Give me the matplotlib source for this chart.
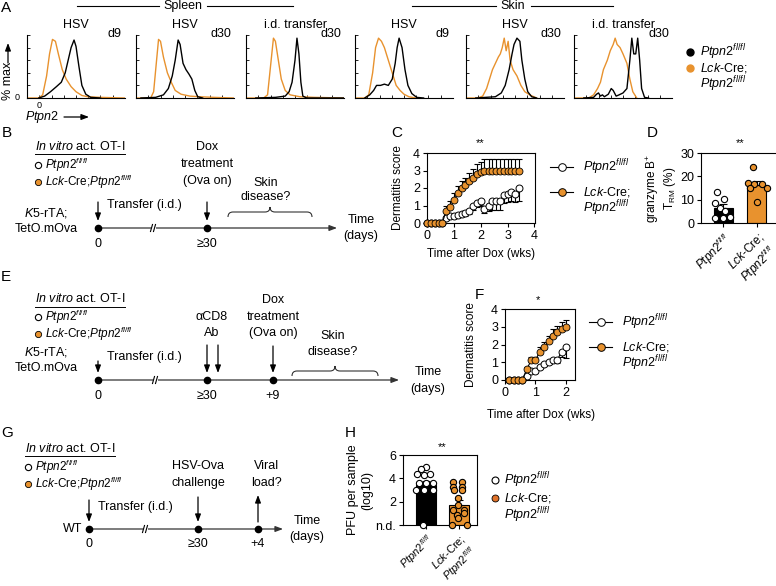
import matplotlib
matplotlib.use("Agg")
import matplotlib.pyplot as plt
from matplotlib.path import Path
from matplotlib.patches import PathPatch, Rectangle

plt.rcParams['font.family'] = ['Liberation Sans', 'DejaVu Sans']
plt.rcParams['mathtext.fontset'] = 'custom'
plt.rcParams['mathtext.rm'] = 'Liberation Sans'
plt.rcParams['mathtext.it'] = 'Liberation Sans:italic'
plt.rcParams['mathtext.bf'] = 'Liberation Sans:bold'
plt.rcParams['axes.linewidth'] = 0.8

W, H = 776, 586
ORANGE = '#E8922E'
FS = 9

PTPN2 = r'$\mathit{Ptpn2}^{fl/fl}$'
LCK = r'$\mathit{Lck}$-Cre;'
LCK_PTPN2 = r'$\mathit{Lck}$-Cre;$\mathit{Ptpn2}^{fl/fl}$'
IN_VITRO = r'$\mathit{In\ vitro}$ act. OT-I'

# ---- A: Ptpn2 histograms (x = fraction of axis, y = fraction of max) ----
hist_titles = ['HSV', 'HSV', 'i.d. transfer', 'HSV', 'HSV', 'i.d. transfer']
hist_days = ['d9', 'd30', 'd30', 'd9', 'd30', 'd30']
ko_x = [
    [0, 0.12, 0.16, 0.20, 0.23, 0.26, 0.29, 0.32, 0.36, 0.40, 0.45, 0.50, 0.56, 0.62, 0.75, 1.0],
    [0, 0.15, 0.18, 0.21, 0.23, 0.25, 0.28, 0.32, 0.36, 0.40, 0.46, 0.55, 0.65, 0.80, 1.0],
    [0, 0.18, 0.22, 0.25, 0.28, 0.30, 0.33, 0.36, 0.40, 0.45, 0.55, 0.70, 1.0],
    [0, 0.10, 0.14, 0.18, 0.21, 0.24, 0.27, 0.30, 0.34, 0.38, 0.42, 0.46, 0.50, 0.55, 0.62],
    [0, 0.12, 0.17, 0.21, 0.24, 0.27, 0.30, 0.33, 0.35, 0.37, 0.39, 0.41, 0.43, 0.45, 0.48,
     0.52, 0.56, 0.60, 0.65, 0.72],
    [0, 0.15, 0.20, 0.24, 0.27, 0.30, 0.34, 0.37, 0.40, 0.42, 0.44, 0.47, 0.50, 0.54, 0.57,
     0.60, 0.64],
]
ko_y = [
    [0, 0, 0.05, 0.35, 0.70, 0.93, 0.90, 0.70, 0.45, 0.30, 0.18, 0.10, 0.04, 0.02, 0.01, 0],
    [0, 0, 0.10, 0.60, 0.93, 0.90, 0.65, 0.40, 0.25, 0.12, 0.06, 0.03, 0.02, 0.01, 0],
    [0, 0, 0.05, 0.50, 0.95, 0.90, 0.60, 0.30, 0.12, 0.05, 0.02, 0.01, 0],
    [0, 0, 0.05, 0.40, 0.80, 0.95, 0.90, 0.80, 0.60, 0.40, 0.20, 0.12, 0.06, 0.02, 0],
    [0, 0, 0.03, 0.15, 0.30, 0.45, 0.55, 0.65, 0.70, 0.80, 0.95, 0.75, 0.90, 0.60, 0.45,
     0.35, 0.20, 0.10, 0.05, 0],
    [0, 0, 0.05, 0.15, 0.25, 0.45, 0.60, 0.75, 0.85, 0.95, 0.85, 0.80, 0.70, 0.55, 0.30,
     0.10, 0],
]
wt_x = [
    [0.12, 0.18, 0.24, 0.30, 0.35, 0.39, 0.42, 0.45, 0.48, 0.50, 0.53, 0.56, 0.60, 0.65, 0.75],
    [0.05, 0.20, 0.28, 0.33, 0.37, 0.40, 0.43, 0.45, 0.48, 0.51, 0.54, 0.57, 0.60, 0.63, 0.68],
    [0.10, 0.30, 0.40, 0.44, 0.47, 0.50, 0.52, 0.54, 0.56, 0.58, 0.62, 1.0],
    [0.10, 0.15, 0.19, 0.22, 0.26, 0.30, 0.34, 0.38, 0.41, 0.43, 0.45, 0.48, 0.51, 0.54, 0.58,
     0.63, 0.70],
    [0.10, 0.30, 0.36, 0.40, 0.44, 0.47, 0.49, 0.52, 0.55, 0.57, 0.60, 0.63, 0.67, 0.72],
    [0.10, 0.20, 0.23, 0.25, 0.27, 0.29, 0.31, 0.35, 0.38, 0.40, 0.43, 0.46, 0.50, 0.54, 0.57,
     0.59, 0.61, 0.63, 0.65, 0.67, 0.69, 0.72, 0.76],
]
wt_y = [
    [0, 0.03, 0.10, 0.18, 0.25, 0.40, 0.60, 0.80, 0.92, 0.82, 0.50, 0.20, 0.06, 0.01, 0],
    [0, 0.01, 0.05, 0.15, 0.35, 0.60, 0.92, 0.85, 0.55, 0.45, 0.38, 0.30, 0.12, 0.02, 0],
    [0, 0.01, 0.03, 0.10, 0.25, 0.60, 0.95, 0.70, 0.25, 0.03, 0, 0],
    [0, 0.05, 0.12, 0.20, 0.20, 0.22, 0.20, 0.30, 0.55, 0.80, 0.95, 0.80, 0.45, 0.20, 0.07,
     0.01, 0],
    [0, 0.02, 0.08, 0.20, 0.45, 0.70, 0.85, 0.95, 0.90, 0.60, 0.30, 0.10, 0.02, 0],
    [0, 0.01, 0.06, 0.08, 0.03, 0.05, 0.02, 0.06, 0.15, 0.12, 0.03, 0.05, 0.08, 0.15, 0.60,
     0.95, 0.70, 0.70, 0.95, 0.60, 0.15, 0.01, 0],
]

# ---- C: dermatitis score, memory challenge ----
c_weeks = [0, 0.14, 0.29, 0.43, 0.57, 0.71, 0.86, 1.0, 1.14, 1.29, 1.43, 1.57, 1.71, 1.86,
           2.0, 2.14, 2.29, 2.43, 2.57, 2.71, 2.86, 3.0, 3.14, 3.29, 3.43]
c_wt = [0, 0, 0, 0, 0, 0.3, 0.4, 0.4, 0.45, 0.5, 0.55, 0.7, 0.95, 1.15, 1.25,
        0.8, 0.95, 1.25, 1.25, 1.25, 1.6, 1.65, 1.75, 1.65, 2.0]
c_wt_err = [0, 0, 0, 0, 0, 0.1, 0.1, 0.1, 0.1, 0.1, 0.15, 0.2, 0.2, 0.25, 0.3,
            0.2, 0.25, 0.5, 0.5, 0.5, 0.45, 0.45, 0.5, 0.45, 0.75]
c_ko = [0, 0, 0, 0, 0, 0.7, 0.9, 1.3, 1.7, 2.0, 2.2, 2.4, 2.6, 2.8, 2.9,
        3, 3, 3, 3, 3, 3, 3, 3, 3, 3]
c_ko_err = [0, 0, 0, 0, 0, 0.3, 0.35, 0.4, 0.4, 0.4, 0.4, 0.45, 0.5, 0.55, 0.6,
            0.65, 0.65, 0.65, 0.65, 0.65, 0.65, 0.65, 0.65, 0.65, 0.65]

# ---- D: granzyme B+ TRM ----
d_groups = [PTPN2, LCK + '\n' + PTPN2]
d_means = [6.4, 16.2]
d_sem = [1.6, 1.7]
d_wt_pts = [13.5, 8.4, 10.2, 6.3, 5.3, 2.0, 2.0, 2.4]
d_wt_dx = [-0.17, -0.23, 0.03, -0.09, 0.06, -0.23, 0.0, 0.2]
d_ko_pts = [24.1, 17.0, 16.6, 16.6, 15.1, 14.9, 9.1]
d_ko_dx = [-0.12, -0.26, -0.09, 0.15, -0.2, 0.29, 0.0]

# ---- F: dermatitis score after CD8 depletion ----
f_weeks = [0.14, 0.29, 0.43, 0.57, 0.71, 0.86, 1.0, 1.14, 1.29, 1.43, 1.57, 1.71, 1.86, 2.0]
f_wt = [0, 0, 0, 0, 0.25, 0.5, 0.5, 0.75, 0.9, 1.0, 1.1, 1.1, 1.6, 1.85]
f_wt_err = [0, 0, 0, 0, 0.05, 0.1, 0.1, 0.1, 0.1, 0.1, 0.1, 0.15, 0.3, 0.6]
f_ko = [0, 0, 0, 0, 0.6, 1.1, 1.1, 1.6, 1.85, 2.2, 2.5, 2.7, 2.9, 3.0]
f_ko_err = [0, 0, 0, 0, 0.15, 0.2, 0.2, 0.25, 0.3, 0.3, 0.35, 0.35, 0.35, 0.4]

# ---- H: viral load ----
h_means = [3.4, 1.7]
h_sem = [0.4, 0.45]
h_wt_pts = [5.0, 4.8, 4.4, 4.3, 4.4, 3.6, 3.6, 3.6, 3.0, 3.0, 3.0, 0]
h_wt_dx = [0.0, -0.14, -0.26, -0.05, 0.12, -0.2, 0.0, 0.2, -0.3, -0.05, 0.2, -0.1]
h_ko_pts = [3.7, 3.7, 3.3, 3.3, 3.0, 3.0, 2.3, 1.7, 1.3, 1.3, 0.9, 1.0, 0.6, 0, 0]
h_ko_dx = [-0.18, 0.09, -0.18, 0.09, -0.15, 0.1, -0.03, -0.03, -0.18, 0.15, -0.06, 0.15,
           -0.03, -0.2, 0.25]


def box(x0, y0, x1, y1):
    """pixel box (top-left origin) -> figure fraction rect"""
    return [x0 / W, 1 - y1 / H, (x1 - x0) / W, (y1 - y0) / H]


fig = plt.figure(figsize=(W / 100, H / 100), dpi=100)

# overlay for schematics / free text, in pixel coordinates
ov = fig.add_axes([0, 0, 1, 1], zorder=5)
ov.set_xlim(0, W)
ov.set_ylim(H, 0)
ov.axis('off')


def txt(x, y, s, size=FS, ha='center', **kw):
    return ov.text(x, y, s, fontsize=size, ha=ha, va='center', **kw)


def arrow(x0, y0, x1, y1, color='k'):
    ov.annotate('', xy=(x1, y1), xytext=(x0, y0),
                arrowprops=dict(arrowstyle='-|>,head_length=0.45,head_width=0.17',
                                color=color, lw=0.9, shrinkA=0, shrinkB=0))


def brace(x0, x1, y, h=5):
    xm = (x0 + x1) / 2
    verts = [(x0, y + h), (x0, y), (x0 + h, y), (xm - h, y), (xm, y), (xm, y - h),
             (xm, y), (xm + h, y), (x1 - h, y), (x1, y), (x1, y + h)]
    codes = [Path.MOVETO, Path.CURVE3, Path.CURVE3, Path.LINETO, Path.CURVE3, Path.CURVE3,
             Path.CURVE3, Path.CURVE3, Path.LINETO, Path.CURVE3, Path.CURVE3]
    ov.add_patch(PathPatch(Path(verts, codes), fc='none', ec='#333333', lw=0.8))


def timeline(x0, x1, y, dots, brk):
    arrow(x0, y, x1, y, color='#333333')
    ov.add_patch(Rectangle((brk - 2, y - 3), 5, 6, fc='white', ec='none', zorder=3))
    for dx in (-1.5, 1.5):
        ov.plot([brk + dx - 1, brk + dx + 1], [y + 3.5, y - 3.5], color='k', lw=0.8, zorder=4)
    ov.plot(dots, [y] * len(dots), 'o', color='k', ms=4.5, zorder=4)


def strain_key(x, y0, step):
    under = txt(x, y0 - 1, IN_VITRO, ha='left')
    ov.plot(x + 3, y0 + step, 'o', mfc='white', mec='k', ms=4.5, mew=0.8)
    txt(x + 10, y0 + step, PTPN2, ha='left', size=8.5)
    ov.plot(x + 3, y0 + 2 * step, 'o', mfc=ORANGE, mec='k', ms=4.5, mew=0.6)
    txt(x + 10, y0 + 2 * step, LCK_PTPN2, ha='left', size=8.5)
    return under


# ---- panel letters ----
for lab, (x, y) in zip('ABCDEFGH', [(6, 8), (7, 133), (397, 133), (652, 133), (6, 277),
                                    (479, 295), (7, 433), (350, 433)]):
    txt(x, y, lab, size=11)

# ---- A ----
hist_left = [27, 136, 246, 355, 466, 574]
for i in range(6):
    ax = fig.add_axes(box(hist_left[i], 35, hist_left[i] + 98, 98))
    ax.plot(ko_x[i], ko_y[i], color=ORANGE, lw=1)
    ax.plot(wt_x[i], wt_y[i], color='k', lw=1)
    ax.set_xlim(0, 1)
    ax.set_ylim(0, 1)
    ax.spines[['top', 'right']].set_visible(False)
    ax.set_xticks([0.125, 0.25, 0.375, 0.5, 0.625, 0.75, 0.875])
    ax.set_yticks([0.2, 0.4, 0.6, 0.8, 1.0])
    ax.tick_params(direction='in', length=2, width=0.6, labelbottom=False, labelleft=False)
    txt(hist_left[i] + 49, 25, hist_titles[i])
    txt(hist_left[i] + 95, 34, hist_days[i], ha='right')
txt(17, 97, '0', size=6.5)
txt(39, 106, '0', size=6.5)
txt(8, 81, '% max', rotation=90)
arrow(8, 63, 8, 43)
txt(25, 117, r'$\mathit{Ptpn2}$', ha='left')
arrow(64, 117, 89, 117)
txt(183, 6, 'Spleen')
ov.plot([77, 159], [6, 6], color='k', lw=0.8)
ov.plot([207, 293], [6, 6], color='k', lw=0.8)
txt(513, 6, 'Skin')
ov.plot([412, 496], [6, 6], color='k', lw=0.8)
ov.plot([531, 613], [6, 6], color='k', lw=0.8)
ov.plot(690, 52, 'o', color='k', ms=5)
txt(700, 52, PTPN2, ha='left')
ov.plot(690, 68, 'o', color=ORANGE, ms=5)
txt(700, 68, LCK, ha='left')
txt(700, 84, PTPN2, ha='left')

# ---- B schematic ----
unders = [strain_key(35, 147, 17.5)]
arrow(98, 202, 98, 221)
txt(107, 205, 'Transfer (i.d.)', ha='left')
txt(46, 213, r'$\mathit{K5}$-rTA;')
txt(46, 229, 'TetO.mOva')
timeline(98, 337, 228, [98, 207], 153)
txt(98, 244, '0')
txt(207, 244, '≥30')
for j, s in enumerate(['Dox', 'treatment', '(Ova on)']):
    txt(207, 147 + 17 * j, s)
arrow(207, 202, 207, 221)
txt(266, 183, 'Skin')
txt(266, 197, 'disease?')
brace(228, 312, 212)
txt(361, 220, 'Time')
txt(361, 236, '(days)')

# ---- E schematic ----
unders.append(strain_key(35, 300, 17))
arrow(98, 361, 98, 373)
txt(107, 357, 'Transfer (i.d.)', ha='left')
txt(46, 352, r'$\mathit{K5}$-rTA;')
txt(46, 368, 'TetO.mOva')
timeline(98, 399, 380, [98, 207, 273], 155)
txt(98, 396, '0')
txt(207, 396, '≥30')
txt(273, 396, '+9')
txt(212, 317, 'αCD8')
txt(212, 333, 'Ab')
arrow(207, 345, 207, 373)
arrow(218, 345, 218, 373)
for j, s in enumerate(['Dox', 'treatment', '(Ova on)']):
    txt(273, 300 + 16.5 * j, s)
arrow(273, 346, 273, 373)
txt(333, 336, 'Skin')
txt(333, 352, 'disease?')
brace(292, 378, 371)
txt(428, 372, 'Time')
txt(428, 389, '(days)')

# ---- G schematic ----
unders.append(strain_key(25, 449, 17.5))
arrow(89, 500, 89, 522)
txt(98, 507, 'Transfer (i.d.)', ha='left')
txt(82, 529, 'WT', ha='right')
timeline(89, 283, 529, [89, 198, 258], 145)
txt(89, 544, '0')
txt(198, 544, '≥30')
txt(258, 544, '+4')
txt(198, 466, 'HSV-Ova')
txt(198, 483, 'challenge')
arrow(198, 497, 198, 522)
txt(266, 466, 'Viral')
txt(266, 483, 'load?')
arrow(258, 522, 258, 495)
txt(307, 521, 'Time')
txt(307, 537, '(days)')


def score_axes(rect, xmax, xticks, weeks, wt, wt_err, ko, ko_err):
    ax = fig.add_axes(rect)
    zeros = [0] * len(weeks)
    ax.errorbar(weeks, wt, yerr=[wt_err, zeros], fmt='none', ecolor='k', elinewidth=0.8,
                capsize=2.5, capthick=0.8, clip_on=False)
    ax.errorbar(weeks, ko, yerr=[zeros, ko_err], fmt='none', ecolor='k', elinewidth=0.8,
                capsize=2.5, capthick=0.8, clip_on=False)
    ax.plot(weeks, wt, '-o', color='k', lw=0.8, mfc='white', mec='k', ms=5, mew=0.7,
            clip_on=False, zorder=3)
    ax.plot(weeks, ko, '-o', color='k', lw=0.8, mfc=ORANGE, mec='k', ms=5, mew=0.6,
            clip_on=False, zorder=4)
    ax.set_xlim(0, xmax)
    ax.set_ylim(0, 4)
    ax.set_xticks(xticks)
    ax.set_yticks([0, 1, 2, 3, 4])
    ax.tick_params(length=3, width=0.8, labelsize=9, pad=2)
    return ax


def line_key(x, y0, step):
    for k, fc in enumerate(['white', ORANGE]):
        y = y0 + k * step
        ov.plot([x, x + 23], [y, y], color='k', lw=0.8)
        ov.plot(x + 11.5, y, 'o', mfc=fc, mec='k', ms=5.5, mew=0.7)
    txt(x + 33, y0, PTPN2, ha='left')
    txt(x + 33, y0 + step, LCK, ha='left')
    txt(x + 33, y0 + step + 16, PTPN2, ha='left')


# ---- C ----
score_axes(box(427, 153, 535, 223), 4.02, [0, 1, 2, 3, 4], c_weeks, c_wt, c_wt_err, c_ko, c_ko_err)
txt(398, 188, 'Dermatitis score', size=8.5, rotation=90)
txt(481, 254, 'Time after Dox (wks)', size=8.5)
txt(480, 143, '**', size=8)
line_key(550, 167, 25)

# ---- F ----
score_axes(box(505, 309, 575, 380), 2.3, [0, 1, 2], f_weeks, f_wt, f_wt_err, f_ko, f_ko_err)
txt(471, 345, 'Dermatitis score', size=8.5, rotation=90)
txt(541, 415, 'Time after Dox (wks)', size=8.5)
txt(538, 300, '*', size=8)
line_key(589, 322, 25)


def bar_axes(rect, xlim, means, sem, wt_pts, wt_dx, ko_pts, ko_dx, width):
    ax = fig.add_axes(rect)
    ax.bar([0, 1], means, width=width, color=['k', ORANGE], edgecolor='k', lw=0.8, zorder=1)
    ax.errorbar([0, 1], means, yerr=[[0, 0], sem], fmt='none', ecolor='k', elinewidth=0.8,
                capsize=3, capthick=0.8, zorder=2)
    ax.plot([d for d in wt_dx], wt_pts, 'o', mfc='white', mec='k', ms=4.5, mew=0.8,
            clip_on=False, zorder=3)
    ax.plot([1 + d for d in ko_dx], ko_pts, 'o', mfc=ORANGE, mec='k', ms=4.5, mew=0.8,
            clip_on=False, zorder=3)
    ax.set_xlim(*xlim)
    ax.set_xticks([0, 1])
    ax.tick_params(length=3, width=0.8, labelsize=9, pad=2)
    return ax


# ---- D ----
ax = bar_axes(box(701, 153, 779, 223), (-0.65, 1.65), d_means, d_sem, d_wt_pts, d_wt_dx,
              d_ko_pts, d_ko_dx, 0.56)
ax.set_ylim(0, 30)
ax.set_yticks([0, 10, 20, 30])
ax.set_xticklabels(d_groups, rotation=45, ha='right', rotation_mode='anchor', fontsize=8.5,
                   multialignment='center')
txt(661, 188, 'granzyme B$^{+}$\nT$_{\\mathrm{RM}}$ (%)', size=8.5, rotation=90,
    multialignment='center', linespacing=1.05)
txt(740, 143, '**', size=8)

# ---- H ----
ax = bar_axes(box(403, 455, 477, 525), (-0.7, 1.55), h_means, h_sem, h_wt_pts, h_wt_dx,
              h_ko_pts, h_ko_dx, 0.62)
ax.set_ylim(0, 6)
ax.set_yticks([0, 2, 4, 6])
ax.set_yticklabels(['n.d.', '2', '4', '6'])
ax.set_xticklabels(d_groups, rotation=45, ha='right', rotation_mode='anchor', fontsize=8,
                   multialignment='center')
txt(360, 490, 'PFU per sample\n(log10)', rotation=90, multialignment='center')
txt(442, 447, '**', size=8)
ov.plot(495, 480, 'o', mfc='white', mec='k', ms=5, mew=0.8)
txt(504, 480, PTPN2, ha='left')
ov.plot(495, 498, 'o', mfc='#E0722A', mec='k', ms=5, mew=0.6)
txt(504, 498, LCK, ha='left')
txt(504, 515, PTPN2, ha='left')

# underline "In vitro act. OT-I"
fig.canvas.draw()
for t in unders:
    bb = t.get_window_extent()
    ov.plot([bb.x0, bb.x1], [H - bb.y0 + 1, H - bb.y0 + 1], color='k', lw=0.7)

fig.savefig('out.png', dpi=100)
